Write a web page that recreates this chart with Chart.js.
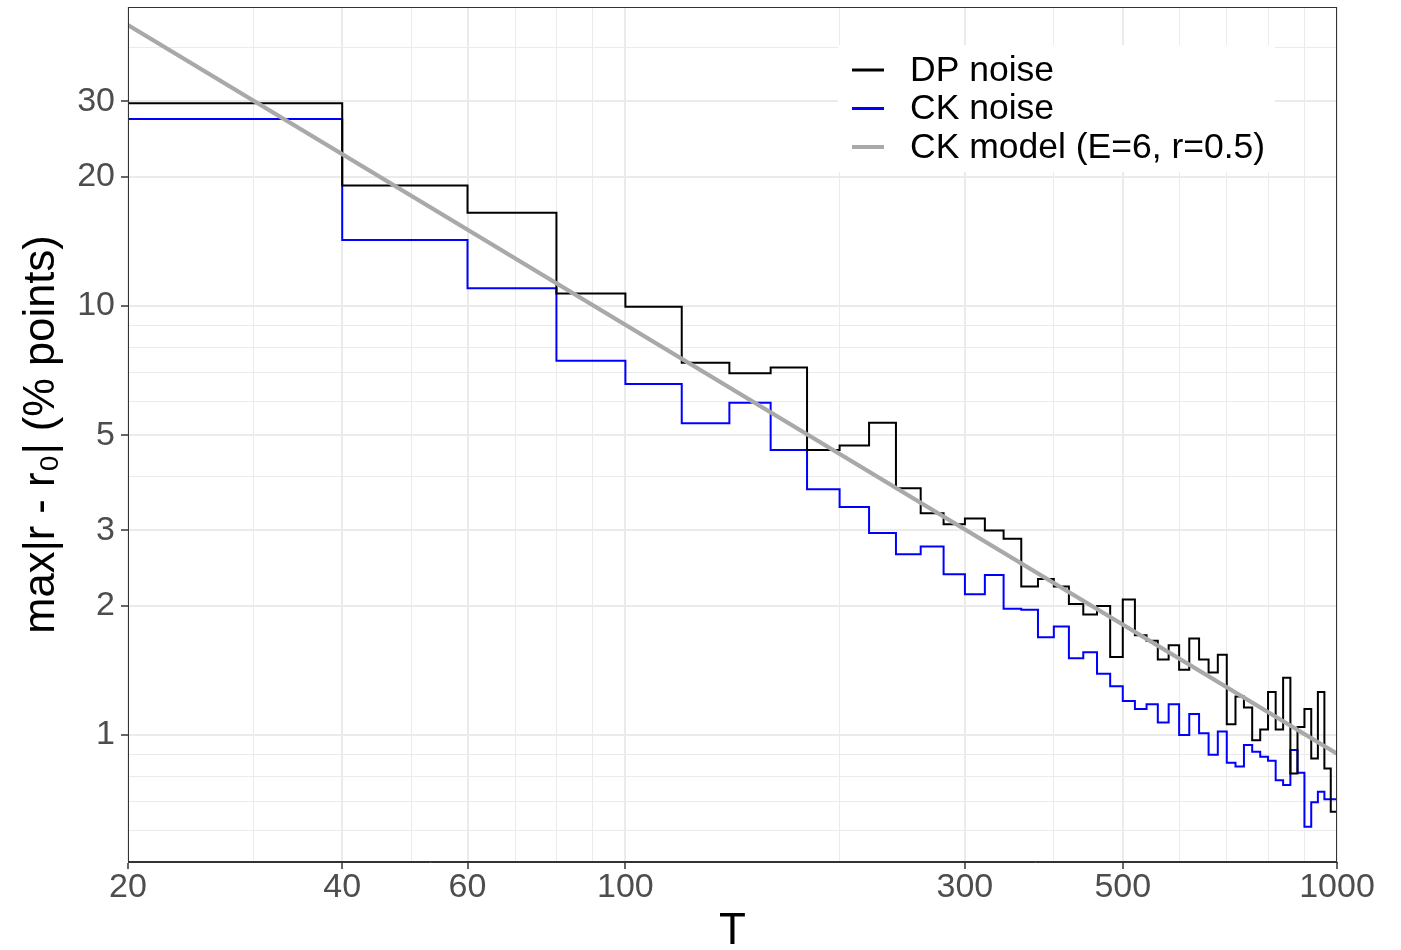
<!DOCTYPE html>
<html>
<head>
<meta charset="utf-8">
<script src="https://cdn.jsdelivr.net/npm/chart.js@4.4.1/dist/chart.umd.min.js"></script>
<style>
html,body{margin:0;padding:0;background:#ffffff;}
canvas{display:block;}
</style>
</head>
<body>
<canvas id="c" width="1401" height="950"></canvas>
<script>
// ---- data ----
const T = [20,40,60,80,100,120,140,160,180,200,220,240,260,280,300,320,340,360,380,400,
           420,440,460,480,500,520,540,560,580,600,620,640,660,680,700,720,740,760,780,800,
           820,840,860,880,900,920,940,960,980,1000];
const dpNoise = [29.7,19.1,16.5,10.7,9.96,7.38,6.97,7.19,4.62,4.73,5.35,3.76,3.29,3.10,3.20,3.00,2.87,2.22,2.31,2.22,
                 2.02,1.91,2.00,1.52,2.07,1.71,1.66,1.50,1.62,1.42,1.68,1.50,1.40,1.54,1.06,1.23,1.16,0.973,1.03,1.26,
                 1.03,1.36,0.814,1.045,1.15,0.882,1.26,0.836,0.663,0.663];
const ckNoise = [27.3,14.25,11.0,7.46,6.58,5.33,5.95,4.62,3.74,3.40,2.96,2.64,2.75,2.37,2.13,2.36,1.97,1.96,1.69,1.79,
                 1.51,1.56,1.39,1.30,1.20,1.15,1.18,1.07,1.18,1.00,1.12,1.01,0.90,1.02,0.862,0.845,0.948,0.914,0.89,0.871,
                 0.785,0.765,0.923,0.817,0.611,0.697,0.738,0.709,0.709,0.709];
const modelT = [20, 1000];
const modelVals = [45.2, 0.905];

const seriesLabels = ['DP noise', 'CK noise', 'CK model (E=6, r=0.5)'];
const seriesColors = ['#000000', '#0000FF', '#A9A9A9'];

const xGridValues = [20,30,40,50,60,70,80,90,100,200,300,400,500,600,700,800,900,1000];
const xTickLabels = [20,40,60,100,300,500,1000];
const yGridValues = [0.6,0.7,0.8,0.9,1,2,3,4,5,6,7,8,9,10,20,30,40];
const yTickLabels = [1,2,3,5,10,20,30];
const xTitle = 'T';
const yTitle = 'max|r - r\u2080| (% points)';

// ---- styling ----
const FONT = "'Liberation Sans', Arial, Helvetica, sans-serif";
const GRID = '#EBEBEB';
const AXIS = '#333333';

const pts = (xs, ys) => xs.map((x, i) => ({x: x, y: ys[i]}));

const legendPlugin = {
  id: 'insideLegend',
  afterDraw(chart) {
    const ctx = chart.ctx;
    const a = chart.chartArea;
    // panel border
    ctx.save();
    ctx.strokeStyle = AXIS;
    ctx.lineWidth = 1;
    ctx.strokeRect(a.left + 0.5, a.top + 0.5, a.right - a.left - 1, a.bottom - a.top - 1);
    // legend box
    const bx = a.right - 499, by = a.top + 38, bw = 437, bh = 127;
    ctx.fillStyle = '#ffffff';
    ctx.fillRect(bx, by, bw, bh);
    ctx.font = '35.5px ' + FONT;
    ctx.textBaseline = 'middle';
    ctx.textAlign = 'left';
    chart.data.datasets.forEach((ds, i) => {
      const cy = by + 25 + i * 38.5;
      ctx.strokeStyle = ds.borderColor;
      ctx.lineWidth = i === 2 ? 4 : 3;
      ctx.beginPath();
      ctx.moveTo(bx + 14, cy);
      ctx.lineTo(bx + 46, cy);
      ctx.stroke();
      ctx.fillStyle = '#000000';
      ctx.fillText(ds.label, bx + 72, cy + 1);
    });
    ctx.restore();
  }
};

new Chart(document.getElementById('c'), {
  type: 'line',
  data: {
    datasets: [
      {label: seriesLabels[0], data: pts(T, dpNoise), borderColor: seriesColors[0], borderWidth: 2,
       stepped: 'before', pointRadius: 0, fill: false, order: 1},
      {label: seriesLabels[1], data: pts(T, ckNoise), borderColor: seriesColors[1], borderWidth: 2,
       stepped: 'before', pointRadius: 0, fill: false, order: 2},
      {label: seriesLabels[2], data: pts(modelT, modelVals), borderColor: seriesColors[2], borderWidth: 4,
       pointRadius: 0, fill: false, order: 0}
    ]
  },
  options: {
    responsive: false,
    animation: false,
    devicePixelRatio: 1,
    layout: {padding: {top: 7, right: 64, bottom: 0, left: 0}},
    plugins: {legend: {display: false}, tooltip: {enabled: false}},
    scales: {
      x: {
        type: 'logarithmic',
        min: 20, max: 1000,
        afterBuildTicks: s => { s.ticks = xGridValues.map(v => ({value: v})); },
        afterFit: s => { s.height = 88; s.paddingLeft = 0; s.paddingRight = 0; },
        ticks: {
          autoSkip: false, maxRotation: 0, minRotation: 0, padding: 2,
          color: '#4D4D4D', font: {family: FONT, size: 34, lineHeight: 1},
          callback: v => xTickLabels.includes(v) ? String(v) : ''
        },
        grid: {
          color: GRID,
          lineWidth: c => (c.tick && xTickLabels.includes(c.tick.value)) ? 2 : 1,
          tickColor: c => (c.tick && xTickLabels.includes(c.tick.value)) ? AXIS : 'rgba(0,0,0,0)',
          tickLength: 7, tickWidth: 1.5
        },
        border: {display: true, color: AXIS, width: 1},
        title: {display: true, text: xTitle, color: '#000000',
                font: {family: FONT, size: 44, lineHeight: 1}, padding: {top: 0, bottom: -4}}
      },
      y: {
        type: 'logarithmic',
        min: 0.506, max: 49.8,
        afterBuildTicks: s => { s.ticks = yGridValues.map(v => ({value: v})); },
        afterFit: s => { s.width = 128; s.paddingTop = 0; s.paddingBottom = 0; },
        ticks: {
          autoSkip: false, padding: 6,
          color: '#4D4D4D', font: {family: FONT, size: 34, lineHeight: 1},
          callback: v => yTickLabels.includes(v) ? String(v) : ''
        },
        grid: {
          color: GRID,
          lineWidth: c => (c.tick && yTickLabels.includes(c.tick.value)) ? 2 : 1,
          tickColor: c => (c.tick && yTickLabels.includes(c.tick.value)) ? AXIS : 'rgba(0,0,0,0)',
          tickLength: 7, tickWidth: 1.5
        },
        border: {display: true, color: AXIS, width: 1},
        title: {display: true, text: yTitle, color: '#000000',
                font: {family: FONT, size: 43.5, lineHeight: 1}, padding: {top: 20, bottom: 0}}
      }
    }
  },
  plugins: [legendPlugin]
});
</script>
</body>
</html>
